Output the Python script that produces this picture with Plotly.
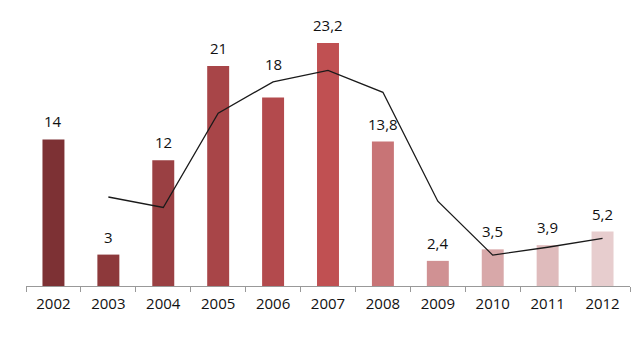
import plotly.graph_objects as go

years = ["2002", "2003", "2004", "2005", "2006", "2007", "2008", "2009", "2010", "2011", "2012"]
values = [14, 3, 12, 21, 18, 23.2, 13.8, 2.4, 3.5, 3.9, 5.2]
labels = ["14", "3", "12", "21", "18", "23,2", "13,8", "2,4", "3,5", "3,9", "5,2"]
trend_years = ["2003", "2004", "2005", "2006", "2007", "2008", "2009", "2010", "2011", "2012"]
trend_values = [8.5, 7.5, 16.5, 19.5, 20.6, 18.5, 8.1, 2.95, 3.7, 4.55]
colors = ["#7D3134", "#8D393B", "#9A4043", "#A84548", "#B34A4D", "#C05052",
          "#C87476", "#D09193", "#D8A8A9", "#DFBBBC", "#E7CDCE"]

fig = go.Figure()
fig.add_trace(go.Bar(x=years, y=values, marker=dict(color=colors, line=dict(width=0)),
                     width=0.4, showlegend=False, hoverinfo="skip"))
fig.add_trace(go.Scatter(x=trend_years, y=trend_values, mode="lines",
                         line=dict(color="#1a1a1a", width=1.3), showlegend=False))

trend_map = dict(zip(trend_years, trend_values))
for i, (yr, v, lab) in enumerate(zip(years, values, labels)):
    anchor = v
    if yr == "2006":
        anchor = max(v, trend_map.get(yr, v))
    fig.add_annotation(x=i, y=anchor, text=lab, showarrow=False, yanchor="bottom",
                       yshift=6, font=dict(size=15, color="#111", family="Open Sans"))

fig.update_layout(
    width=640, height=343,
    margin=dict(l=26, r=10, t=10, b=57),
    plot_bgcolor="white", paper_bgcolor="white",
    bargap=0.6,
    xaxis=dict(type="category", categoryorder="array", categoryarray=years,
               range=[-0.5, len(years) - 0.5],
               showline=True, linecolor="#999", linewidth=1,
               ticks="outside", tickson="boundaries", ticklen=5, tickcolor="#999",
               ticklabelstandoff=4,
               tickfont=dict(size=15, color="#111", family="Open Sans"), showgrid=False),
    yaxis=dict(range=[0, 26.36], visible=False, showgrid=False),
)
fig.write_html("out.html")
